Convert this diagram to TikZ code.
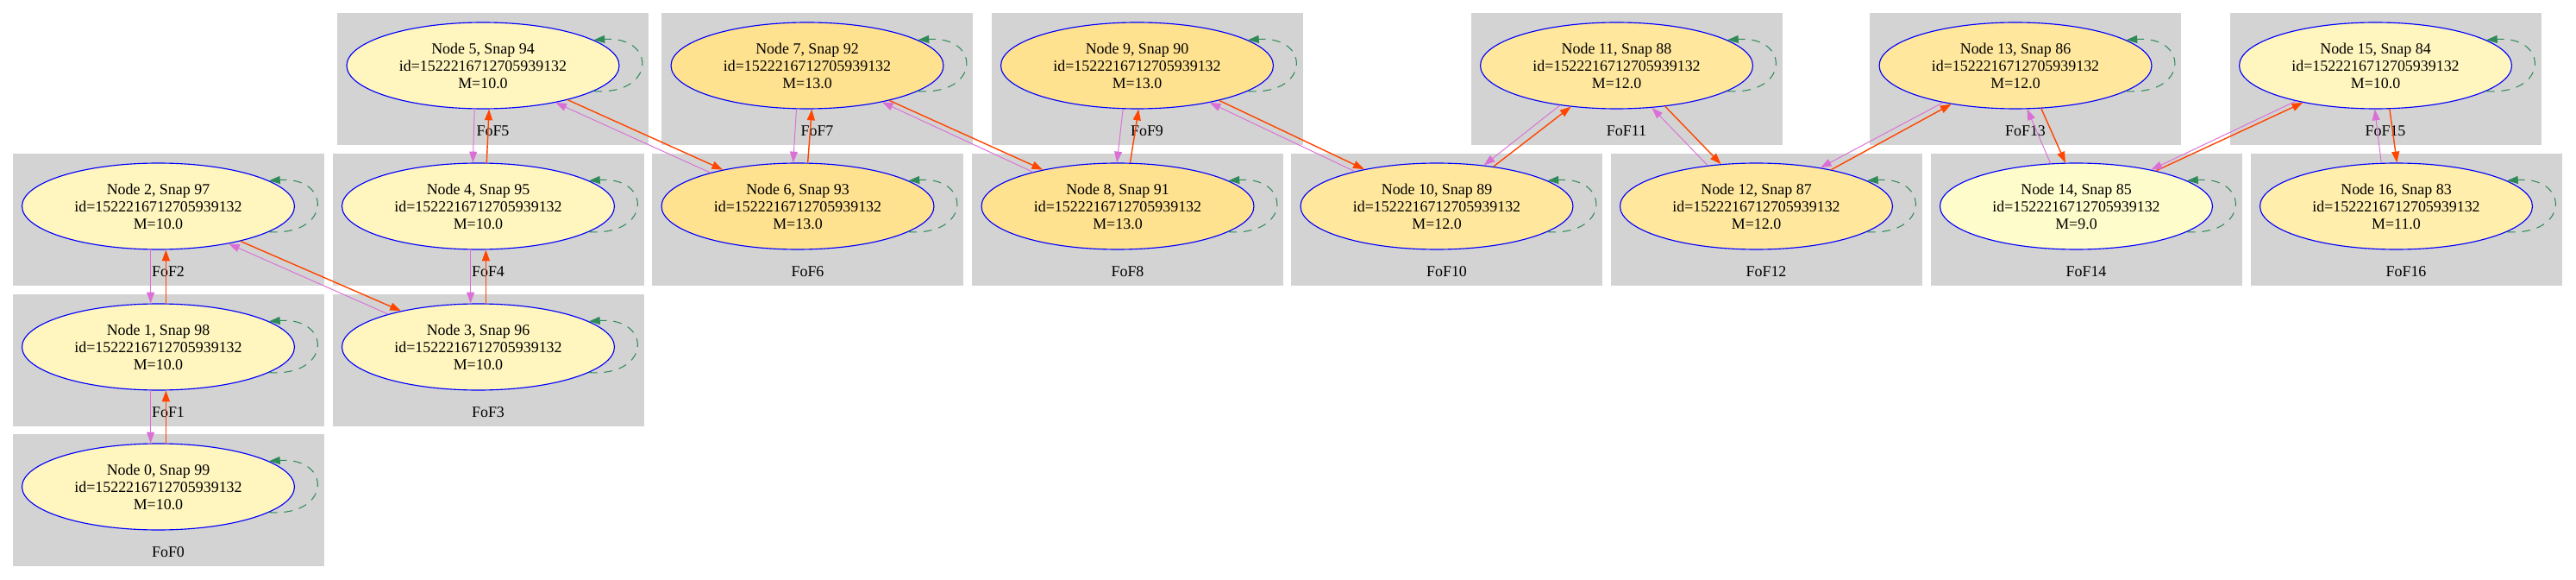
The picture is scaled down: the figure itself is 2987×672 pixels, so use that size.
\documentclass[tikz,border=0pt]{standalone}
\usepackage{fontspec}
\setmainfont{Liberation Serif}
\usetikzlibrary{arrows.meta,shapes.geometric}
\definecolor{fofgray}{RGB}{211,211,211}
\definecolor{fofblue}{RGB}{0,0,255}
\definecolor{loopgreen}{RGB}{46,139,87}
\definecolor{fwdorange}{RGB}{255,69,0}
\definecolor{bwdorchid}{RGB}{218,112,214}
\definecolor{mnine}{RGB}{255,252,203}
\definecolor{mten}{RGB}{255,245,190}
\definecolor{meleven}{RGB}{255,238,172}
\definecolor{mtwelve}{RGB}{255,232,158}
\definecolor{mthirteen}{RGB}{255,226,143}

\begin{document}
\begin{tikzpicture}[x=0.02cm,y=-0.02cm,font=\fontsize{10.2pt}{11.34pt}\selectfont,
    >={Triangle[length=7.3pt,width=5.1pt]},
    fofbox/.style={fill=fofgray},
    halo/.style={ellipse,draw=fofblue,line width=0.65pt,minimum width=6.32cm,minimum height=2cm,inner sep=0pt,align=center},
    selfloop/.style={->,loopgreen,line width=0.6pt,dash pattern=on 5.5pt off 4.5pt},
    fwd/.style={->,fwdorange,line width=0.8pt},
    bwd/.style={->,bwdorchid,line width=0.55pt}]
    \useasboundingbox (0,0) rectangle (2987,672);
    \foreach \k/\cx/\cy/\mfill/\snap/\mass in {
        0/183.5/564/mten/99/10.0, 1/183.5/402/mten/98/10.0, 2/183.5/239/mten/97/10.0,
        3/554.5/402/mten/96/10.0, 4/554.5/239/mten/95/10.0, 5/560/76/mten/94/10.0,
        6/925/239/mthirteen/93/13.0, 7/936/76/mthirteen/92/13.0, 8/1296/239/mthirteen/91/13.0,
        9/1318.5/76/mthirteen/90/13.0, 10/1666/239/mtwelve/89/12.0, 11/1874.5/76/mtwelve/88/12.0,
        12/2036.5/239/mtwelve/87/12.0, 13/2337/76/mtwelve/86/12.0, 14/2407.5/239/mnine/85/9.0,
        15/2754.5/76/mten/84/10.0, 16/2778.5/239/meleven/83/11.0}{
      \fill[fofbox] (\cx-169,\cy-61) rectangle +(361,153);
      \node (lab\k) at (\cx+11.5,\cy+76) {FoF\k};
      \node[halo,fill=\mfill] (n\k) at (\cx,\cy) {Node \k, Snap \snap\\id=1522216712705939132\\M=\mass};
      \draw[selfloop] (n\k.-13) .. controls +(73,5) and +(73,-5) .. (n\k.13);
    }
    \foreach \a/\b/\fa/\fb/\ba/\bb in {
        0/1/80/-80/100/-100, 1/2/80/-80/100/-100, 2/3/-23/155/-28/160,
        3/4/80/-80/100/-100, 4/5/79/-82/97/-101, 5/6/-22/154/-27/159,
        6/7/77/-84/96/-104, 7/8/-23/154/-26/158, 8/9/74/-88/91/-108,
        9/10/-23/153/-27/157, 10/11/35/-138/41/-145, 11/12/-40/130/-50/140,
        12/13/26/-149/31/-153, 13/14/-59/104/-75/121, 14/15/24/-153/26/-156,
        15/16/-72/89/-91/109}{
      \draw[fwd] (n\a.\fa) -- (n\b.\fb);
      \draw[bwd] (n\b.\bb) -- (n\a.\ba);
    }
  \end{tikzpicture}
\end{document}
